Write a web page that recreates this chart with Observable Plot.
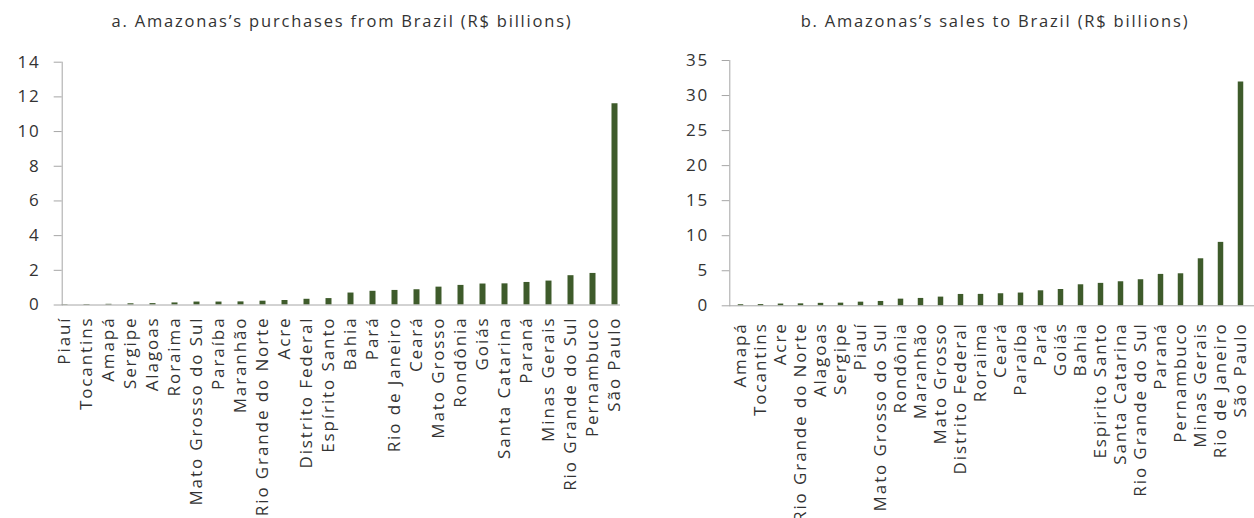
<!DOCTYPE html>
<html>
<head>
<meta charset="utf-8">
<script src="https://cdn.jsdelivr.net/npm/d3@7"></script>
<script src="https://cdn.jsdelivr.net/npm/@observablehq/plot@0.6"></script>
<style>
  html, body { margin: 0; padding: 0; background: #fff; }
  #wrap { position: relative; width: 1254px; height: 518px; overflow: hidden; font-family: "Open Sans", sans-serif; }
  .title { position: absolute; top: 9px; font-size: 16.5px; letter-spacing: 1.8px; color: #333; white-space: nowrap; transform: translateX(-50%); }
  .panel { position: absolute; top: 0; }
  #wrap svg text { letter-spacing: 1.9px !important; font-size: 17px !important; font-family: "Open Sans", sans-serif !important; }
</style>
</head>
<body>
<div id="wrap">
  <div class="title" style="left:342px">a. Amazonas’s purchases from Brazil (R$ billions)</div>
  <div class="title" style="left:995px">b. Amazonas’s sales to Brazil (R$ billions)</div>
  <div class="panel" id="pa" style="left:0px"></div>
  <div class="panel" id="pb" style="left:627px"></div>
</div>
<script>
// Panel a: Amazonas's purchases from Brazil (R$ billions)
const statesA = ["Piauí","Tocantins","Amapá","Sergipe","Alagoas","Roraima","Mato Grosso do Sul","Paraíba","Maranhão","Rio Grande do Norte","Acre","Distrito Federal","Espírito Santo","Bahia","Pará","Rio de Janeiro","Ceará","Mato Grosso","Rondônia","Goiás","Santa Catarina","Paraná","Minas Gerais","Rio Grande do Sul","Pernambuco","São Paulo"];
const valuesA = [0.02,0.03,0.04,0.07,0.08,0.12,0.17,0.17,0.18,0.22,0.26,0.33,0.37,0.69,0.79,0.84,0.88,1.03,1.13,1.21,1.22,1.30,1.38,1.69,1.82,11.6];
const ticksA = [0,2,4,6,8,10,12,14];

// Panel b: Amazonas's sales to Brazil (R$ billions)
const statesB = ["Amapá","Tocantins","Acre","Rio Grande do Norte","Alagoas","Sergipe","Piauí","Mato Grosso do Sul","Rondônia","Maranhão","Mato Grosso","Distrito Federal","Roraima","Ceará","Paraíba","Pará","Goiás","Bahia","Espirito Santo","Santa Catarina","Rio Grande do Sul","Paraná","Pernambuco","Minas Gerais","Rio de Janeiro","São Paulo"];
const valuesB = [0.15,0.17,0.25,0.28,0.35,0.38,0.52,0.62,0.95,1.05,1.24,1.62,1.63,1.72,1.82,2.14,2.33,3.0,3.2,3.43,3.72,4.48,4.57,6.71,9.05,31.95];
const ticksB = [0,5,10,15,20,25,30,35];

const barColor = "#3e5b2b";
const axisColor = "#a6a6a6";
const textColor = "#333333";

function panel(states, values, ticks, o) {
  const data = states.map((s, i) => ({state: s, value: values[i]}));
  return Plot.plot({
    width: 627,
    height: 518,
    marginTop: o.mt,
    marginBottom: o.mb,
    marginLeft: o.ml,
    marginRight: o.mr,
    style: {fontFamily: "'Open Sans', sans-serif", fontSize: "17px", color: textColor, background: "transparent", overflow: "visible"},
    x: {type: "point", domain: states, padding: 0, insetLeft: o.il, insetRight: o.ir},
    y: {domain: [0, ticks[ticks.length - 1]]},
    marks: [
      Plot.ruleX(data, {x: "state", y1: 0, y2: "value", stroke: barColor, strokeWidth: o.bw}),
      Plot.frame({anchor: "left", stroke: axisColor}),
      Plot.ruleY([0], {stroke: axisColor}),
      Plot.axisY({ticks, tickSize: o.ts, tickPadding: o.tp, stroke: axisColor, label: null, fill: textColor, fontSize: 17}),
      Plot.axisX({tickRotate: -90, tickSize: 0, tickPadding: o.xp, label: null, fill: textColor, fontSize: 17})
    ]
  });
}

document.getElementById("pa").appendChild(panel(statesA, valuesA, ticksA,
  {mt: 61.7, mb: 518 - 304.5, ml: 61.7, mr: 627 - 620, il: 1.5, ir: 5, bw: 6, ts: 8, tp: 13.5, xp: 11.5}));
document.getElementById("pb").appendChild(panel(statesB, valuesB, ticksB,
  {mt: 60, mb: 518 - 305.3, ml: 102.3, mr: 0, il: 2.5, ir: 6.5, bw: 5.5, ts: 7.6, tp: 13, xp: 16.5}));
</script>
</body>
</html>
